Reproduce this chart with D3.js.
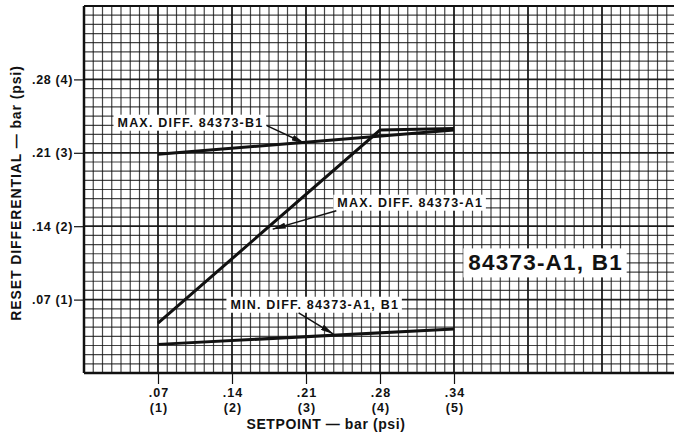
<!DOCTYPE html>
<html>
<head>
<meta charset="utf-8">
<script src="https://cdn.jsdelivr.net/npm/d3@7"></script>
<style>
  html, body { margin: 0; padding: 0; background: #fff; }
  svg { display: block; }
  text { font-family: "Liberation Sans", Arial, Helvetica, sans-serif; font-weight: bold; fill: #111; }
</style>
</head>
<body>
<svg id="chart" width="674" height="432"></svg>
<script>
// ---- data (psi units) ----
const xTickValues = [1, 2, 3, 4, 5];
const xTickBar = [".07", ".14", ".21", ".28", ".34"];
const xTickPsi = ["(1)", "(2)", "(3)", "(4)", "(5)"];
const yTickValues = [1, 2, 3, 4];
const yTickLabels = [".07 (1)", ".14 (2)", ".21 (3)", ".28 (4)"];

const maxDiffB1 = [[1, 2.98], [5, 3.31]];
const maxDiffA1 = [[1, 0.68], [4, 3.31], [5, 3.33]];
const minDiffA1B1 = [[1, 0.39], [5, 0.60]];

const xTitle = "SETPOINT — bar (psi)";
const yTitle = "RESET DIFFERENTIAL — bar (psi)";
const bigLabel = "84373-A1, B1";

// annotations: text, text anchor point, arrow from -> to (data units)
const notes = [
  { text: "MAX. DIFF. 84373-B1", at: [1.43, 3.41], from: [2.47, 3.37], to: [2.98, 3.13] },
  { text: "MAX. DIFF. 84373-A1", at: [4.40, 2.32], from: [3.41, 2.21], to: [2.55, 1.96] },
  { text: "MIN. DIFF. 84373-A1, B1", at: [3.11, 0.93], from: [2.90, 0.82], to: [3.37, 0.53] }
];

// ---- layout ----
const svg = d3.select("#chart");
const mLeft = 84, mTop = 6, plotW = 592, plotH = 367;
const x = d3.scaleLinear().domain([0, 8]).range([mLeft, mLeft + plotW]);
const y = d3.scaleLinear().domain([0, 5]).range([mTop + plotH, mTop]);

const defs = svg.append("defs");
defs.append("clipPath").attr("id", "clip")
  .append("rect").attr("x", mLeft).attr("y", mTop).attr("width", plotW).attr("height", plotH);
defs.append("marker").attr("id", "arrow")
  .attr("viewBox", "0 0 13 6").attr("refX", 13).attr("refY", 3)
  .attr("markerWidth", 13).attr("markerHeight", 6).attr("markerUnits", "userSpaceOnUse")
  .attr("orient", "auto")
  .append("path").attr("d", "M0,0 L13,3 L0,6 Z").attr("fill", "#111");

// ---- grid ----
const g = svg.append("g").attr("clip-path", "url(#clip)");
const minorX = d3.range(0, 8 * 8 + 1).map(i => i / 8);
const minorY = d3.range(0, 5 * 8 + 1).map(i => i / 8);
g.selectAll("line.vx").data(minorX).enter().append("line")
  .attr("x1", d => x(d)).attr("x2", d => x(d)).attr("y1", mTop).attr("y2", mTop + plotH)
  .attr("stroke", "#111").attr("stroke-opacity", d => Number.isInteger(d) ? 0.95 : 0.78)
  .attr("stroke-width", d => Number.isInteger(d) ? 1.8 : 1.2);
g.selectAll("line.hy").data(minorY).enter().append("line")
  .attr("y1", d => y(d)).attr("y2", d => y(d)).attr("x1", mLeft).attr("x2", mLeft + plotW)
  .attr("stroke", "#111").attr("stroke-opacity", d => Number.isInteger(d) ? 0.95 : 0.78)
  .attr("stroke-width", d => Number.isInteger(d) ? 1.8 : 1.2);

// border
svg.append("line").attr("x1", mLeft).attr("x2", mLeft).attr("y1", mTop).attr("y2", mTop + plotH)
  .attr("stroke", "#111").attr("stroke-width", 2.5);
svg.append("line").attr("x1", mLeft).attr("x2", 674).attr("y1", mTop + plotH).attr("y2", mTop + plotH)
  .attr("stroke", "#111").attr("stroke-width", 2.5);
svg.append("line").attr("x1", mLeft).attr("x2", 674).attr("y1", mTop).attr("y2", mTop)
  .attr("stroke", "#111").attr("stroke-width", 2);

// ---- axes ----
const xAxis = svg.append("g").attr("transform", `translate(0,${mTop + plotH})`)
  .call(d3.axisBottom(x).tickValues(xTickValues).tickSize(11).tickFormat(""));
xAxis.select(".domain").remove();
xAxis.selectAll(".tick line").attr("stroke", "#111").attr("stroke-width", 1.2);
xAxis.selectAll(".tick").each(function (d, i) {
  const t = d3.select(this).append("text").attr("text-anchor", "middle")
    .style("font-size", "12.5px").style("letter-spacing", "1px").attr("fill", "#111");
  t.append("tspan").attr("x", 0.5).attr("y", 24).text(xTickBar[i]);
  t.append("tspan").attr("x", 0.5).attr("y", 39).text(xTickPsi[i]);
});

const yAxis = svg.append("g").attr("transform", `translate(${mLeft},0)`)
  .call(d3.axisLeft(y).tickValues(yTickValues).tickSize(10).tickPadding(1)
    .tickFormat((d, i) => yTickLabels[i]));
yAxis.select(".domain").remove();
yAxis.selectAll(".tick line").attr("stroke", "#111").attr("stroke-width", 1.2);
yAxis.selectAll(".tick text").style("font-size", "12.5px").style("letter-spacing", "0.7px")
  .attr("fill", "#111")
  .style("font-family", "'Liberation Sans', Arial, sans-serif").style("font-weight", "bold");

svg.append("text").attr("x", 326).attr("y", 429).attr("text-anchor", "middle")
  .style("font-size", "14px").style("letter-spacing", "0.6px").text(xTitle);
svg.append("text").attr("transform", `translate(21,193) rotate(-90)`)
  .attr("text-anchor", "middle").style("font-size", "14px").style("letter-spacing", "0.9px")
  .text(yTitle);

// ---- series ----
const line = d3.line().x(d => x(d[0])).y(d => y(d[1]));
[maxDiffB1, maxDiffA1, minDiffA1B1].forEach(s => {
  svg.append("path").datum(s).attr("d", line).attr("fill", "none")
    .attr("stroke", "#111").attr("stroke-width", 3).attr("stroke-linejoin", "miter");
});

// ---- annotations ----
function labelBox(txt, cx, cy, size, spacing, padX, padY) {
  const grp = svg.append("g");
  const t = grp.append("text").attr("x", cx + spacing / 2).attr("y", cy).attr("text-anchor", "middle")
    .attr("dominant-baseline", "central").style("font-size", size + "px")
    .style("letter-spacing", spacing + "px").text(txt);
  const bb = t.node().getBBox();
  grp.insert("rect", "text").attr("x", bb.x - padX).attr("y", bb.y - padY)
    .attr("width", bb.width + 2 * padX - spacing).attr("height", bb.height + 2 * padY).attr("fill", "#fff");
}
notes.forEach(n => {
  labelBox(n.text, x(n.at[0]), y(n.at[1]), 12.5, 1.2, 4, 1);
  svg.append("line").attr("x1", x(n.from[0])).attr("y1", y(n.from[1]))
    .attr("x2", x(n.to[0])).attr("y2", y(n.to[1]))
    .attr("stroke", "#111").attr("stroke-width", 1.5).attr("marker-end", "url(#arrow)");
});
labelBox(bigLabel, x(6.23), y(1.50), 22.5, 1.2, 5, 2);
</script>
</body>
</html>
